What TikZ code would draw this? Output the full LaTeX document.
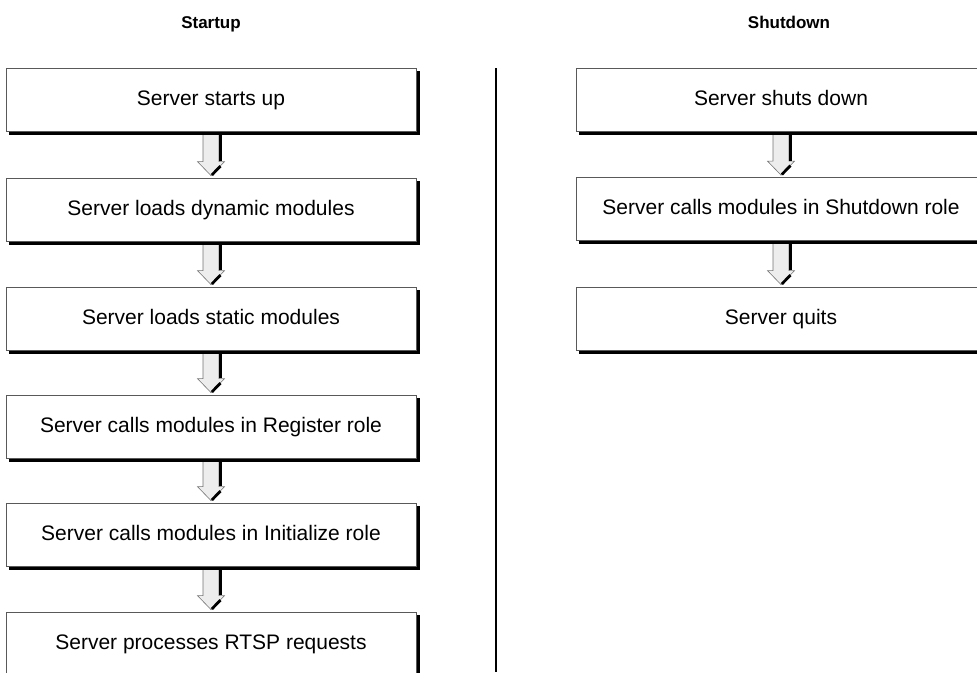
\documentclass[tikz,border=0pt]{standalone}
\usepackage{fontspec}
\setmainfont{Liberation Sans}
\usetikzlibrary{calc}
\pgfdeclarelayer{bg}
\pgfdeclarelayer{shade}
\pgfsetlayers{bg,shade,main}
\newcommand{\flowarrow}[2]{%
  \filldraw[arrowbody] let \p1=(#1.south), \p2=(#2.north) in
    (\x1-8pt,\y1) -- (\x1-8pt,\y2+16pt) -- (\x1-13.5pt,\y2+16pt) -- (\x1,\y2+2pt)
    -- (\x1+13.5pt,\y2+16pt) -- (\x1+8pt,\y2+16pt) -- (\x1+8pt,\y1) -- cycle;
  \draw[arrowshade] let \p1=(#1.south), \p2=(#2.north) in
    (\x1+9.4pt,\y1) -- (\x1+9.4pt,\y2+16.5pt);
  \draw[arrowshade] let \p1=(#1.south), \p2=(#2.north) in
    (\x1+0.8pt,\y2+2.6pt) -- (\x1+9.5pt,\y2+11.5pt);
}
\newcommand{\boxshadow}[1]{%
  \fill[black] ($(#1.south west)+(3.5pt,-3.5pt)$) rectangle ($(#1.north east)+(3.5pt,-3.5pt)$);
}
\begin{document}
\begin{tikzpicture}[x=1pt,y=-1pt,
  box/.style={draw=black!65, line width=0.8pt, fill=white,
    minimum width=410pt, minimum height=63pt, inner sep=0pt,
    text height=15pt, text depth=4pt,
    font=\fontsize{21}{25}\selectfont},
  title/.style={font=\fontsize{17}{20}\selectfont\bfseries, inner sep=0pt, anchor=base},
  arrowbody/.style={fill=black!7, draw=black!55, line width=0.6pt},
  arrowshade/.style={black, line width=2.8pt},
  divider/.style={line width=2pt, black}]
\useasboundingbox (0,0) rectangle (977,672);
\clip (0,0) rectangle (977,672);
\node[title] (t1) at (211,28) {Startup};
\node[title] (t2) at (789,28) {Shutdown};
\node[box] (s1) at (211,99.5) {Server starts up};
\node[box] (s2) at (211,209.5) {Server loads dynamic modules};
\node[box] (s3) at (211,318.5) {Server loads static modules};
\node[box] (s4) at (211,426.5) {Server calls modules in Register role};
\node[box] (s5) at (211,534.5) {Server calls modules in Initialize role};
\node[box] (s6) at (211,643.5) {Server processes RTSP requests};
\node[box] (d1) at (781,99.5) {Server shuts down};
\node[box] (d2) at (781,209) {Server calls modules in Shutdown role};
\node[box] (d3) at (781,318.5) {Server quits};
\coordinate (v1) at (496,68);
\coordinate (v2) at (496,672);
\draw[divider] (v1) -- (v2);
\begin{pgfonlayer}{shade}
\foreach \n in {s1,s2,s3,s4,s5,s6,d1,d2,d3} {\boxshadow{\n}}
\end{pgfonlayer}
\begin{pgfonlayer}{bg}
\flowarrow{s1}{s2}
\flowarrow{s2}{s3}
\flowarrow{s3}{s4}
\flowarrow{s4}{s5}
\flowarrow{s5}{s6}
\flowarrow{d1}{d2}
\flowarrow{d2}{d3}
\end{pgfonlayer}
\end{tikzpicture}
\end{document}
